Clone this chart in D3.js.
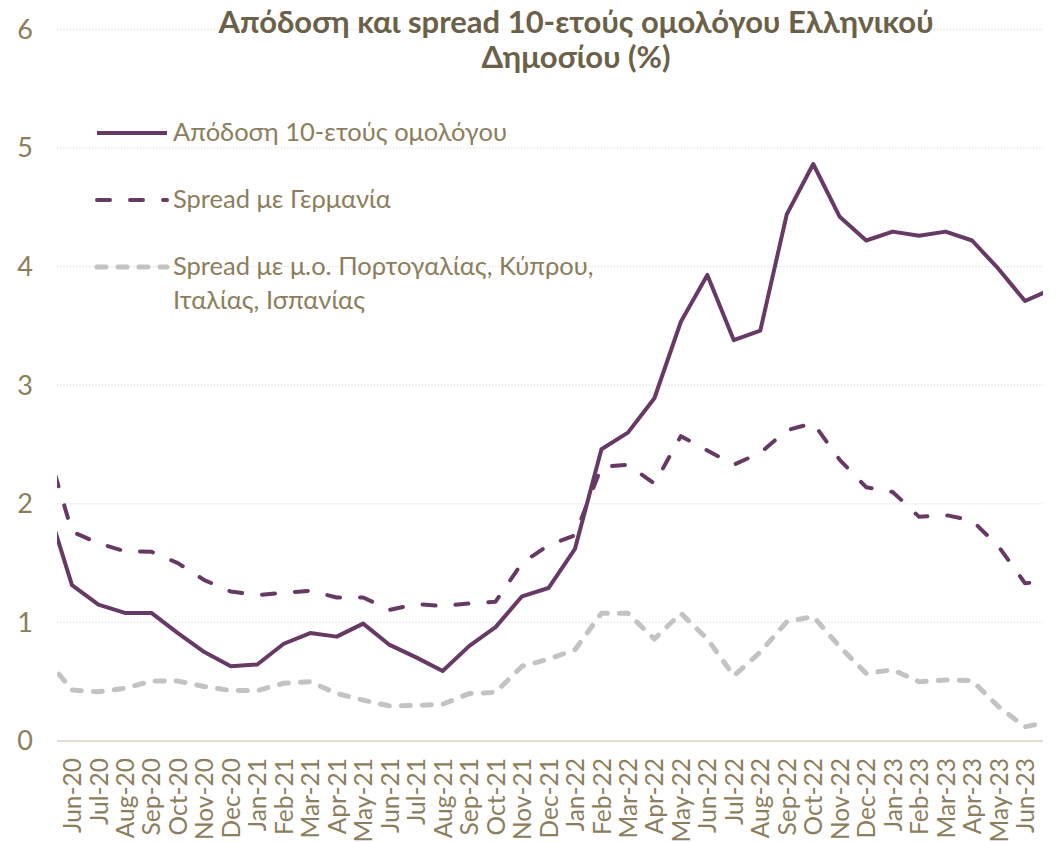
<!DOCTYPE html>
<html>
<head>
<meta charset="utf-8">
<script src="https://cdn.jsdelivr.net/npm/d3@7"></script>
<style>
  body { margin: 0; background: #fff; }
  .canvas text { font-family: Lato, "Noto Sans", sans-serif; }
</style>
</head>
<body>
<div class="canvas"></div>
<script>
// Months (first and last are only partly visible, cut by the plot area)
const months = ['May-20','Jun-20','Jul-20','Aug-20','Sep-20','Oct-20','Nov-20','Dec-20',
    'Jan-21','Feb-21','Mar-21','Apr-21','May-21','Jun-21','Jul-21','Aug-21','Sep-21','Oct-21','Nov-21','Dec-21',
    'Jan-22','Feb-22','Mar-22','Apr-22','May-22','Jun-22','Jul-22','Aug-22','Sep-22','Oct-22','Nov-22','Dec-22',
    'Jan-23','Feb-23','Mar-23','Apr-23','May-23','Jun-23','Jul-23']

const yield10y = [2.03, 1.315, 1.15, 1.08, 1.08, 0.91, 0.75, 0.63,
    0.645, 0.82, 0.91, 0.88, 0.99, 0.81, 0.705, 0.59, 0.80, 0.96, 1.22, 1.29,
    1.62, 2.46, 2.60, 2.89, 3.535, 3.93, 3.38, 3.46, 4.44, 4.865, 4.42, 4.22,
    4.295, 4.26, 4.295, 4.22, 3.98, 3.71, 3.81]

const spreadGermany = [2.52, 1.765, 1.667, 1.60, 1.596, 1.50, 1.357, 1.26,
    1.23, 1.25, 1.267, 1.21, 1.21, 1.105, 1.155, 1.138, 1.16, 1.175, 1.50, 1.65,
    1.735, 2.31, 2.33, 2.17, 2.57, 2.45, 2.33, 2.43, 2.62, 2.68, 2.37, 2.14,
    2.10, 1.89, 1.905, 1.86, 1.64, 1.33, 1.35]

const spreadPeriphery = [0.70, 0.43, 0.415, 0.445, 0.505, 0.505, 0.46, 0.425,
    0.425, 0.487, 0.50, 0.40, 0.345, 0.295, 0.30, 0.31, 0.40, 0.41, 0.63, 0.69,
    0.77, 1.077, 1.077, 0.86, 1.077, 0.86, 0.55, 0.75, 1.005, 1.05, 0.795, 0.57,
    0.60, 0.50, 0.515, 0.51, 0.29, 0.12, 0.165]

const yTicks = [0, 1, 2, 3, 4, 5, 6]
const titleLines = ['Απόδοση και spread 10-ετούς ομολόγου Ελληνικού', 'Δημοσίου (%)']

const series = [
    {name: ['Spread με μ.ο. Πορτογαλίας, Κύπρου,', 'Ιταλίας, Ισπανίας'], values: spreadPeriphery, color: '#c3c3c3', width: 5, dash: '9,12'},
    {name: ['Απόδοση 10-ετούς ομολόγου'], values: yield10y, color: '#673965', width: 4, dash: null},
    {name: ['Spread με Γερμανία'], values: spreadGermany, color: '#673965', width: 4, dash: '13,20'}
]
const legendOrder = [1, 2, 0]

const textColor = '#8c7e5c'
const titleColor = '#6b6148'

// svg
const svg = d3.select('.canvas')
    .append('svg')
        .attr('width', 1058)
        .attr('height', 842)

const plot = {left: 57, right: 1043, top: 0, bottom: 741}

const x = d3.scalePoint()
    .domain(months)
    .range([45.5, 1051.5])

const y = d3.scaleLinear()
    .domain([0, 6])
    .range([741, 29.4])

// gridlines
svg.append('g')
    .selectAll('line')
    .data(yTicks.filter(d => d > 0))
    .enter()
    .append('line')
        .attr('x1', plot.left)
        .attr('x2', plot.right)
        .attr('y1', d => y(d))
        .attr('y2', d => y(d))
        .attr('stroke', '#dcdccc')
        .attr('stroke-width', 1.2)
        .attr('stroke-dasharray', '1.2,2')

// baseline
svg.append('line')
    .attr('x1', plot.left)
    .attr('x2', plot.right)
    .attr('y1', y(0))
    .attr('y2', y(0))
    .attr('stroke', '#e2ded3')
    .attr('stroke-width', 2)

// y labels
svg.append('g')
    .selectAll('text')
    .data(yTicks)
    .enter()
    .append('text')
        .attr('x', 25)
        .attr('y', d => y(d))
        .attr('dy', '0.35em')
        .attr('text-anchor', 'middle')
        .attr('font-size', 27)
        .attr('fill', textColor)
        .text(d => d)

// x axis
const xAxis = d3.axisBottom(x)
    .tickValues(months.slice(1, -1))
    .tickSize(0)
    .tickPadding(0)

const gx = svg.append('g')
    .attr('transform', `translate(0, ${y(0)})`)
    .call(xAxis)
gx.select('.domain').remove()
gx.selectAll('text')
    .attr('font-size', 24.5)
    .attr('font-family', 'Lato, "Noto Sans", sans-serif')
    .attr('fill', textColor)
    .attr('text-anchor', 'end')
    .attr('dy', '0.35em')
    .attr('y', 0)
    .attr('transform', 'translate(0, 17) rotate(-90)')

// clip for lines
svg.append('clipPath')
    .attr('id', 'clip')
    .append('rect')
        .attr('x', plot.left)
        .attr('y', 0)
        .attr('width', plot.right - plot.left)
        .attr('height', 842)

const line = d3.line()
    .x((d, i) => x(months[i]))
    .y(d => y(d))

svg.append('g')
    .attr('clip-path', 'url(#clip)')
    .selectAll('path')
    .data(series)
    .enter()
    .append('path')
        .attr('d', d => line(d.values))
        .attr('fill', 'none')
        .attr('stroke', d => d.color)
        .attr('stroke-width', d => d.width)
        .attr('stroke-dasharray', d => d.dash)
        .attr('stroke-linecap', d => d.dash ? 'round' : 'butt')
        .attr('stroke-linejoin', 'round')

// title
svg.append('g')
    .selectAll('text')
    .data(titleLines)
    .enter()
    .append('text')
        .attr('x', 576)
        .attr('y', (d, i) => 33 + i * 35)
        .attr('text-anchor', 'middle')
        .attr('font-size', 31)
        .attr('font-weight', 'bold')
        .attr('fill', titleColor)
        .text(d => d)

// legend
const legendY = [133, 200, 267]
const legend = svg.append('g')
legendOrder.forEach((s, k) => {
    const d = series[s]
    legend.append('line')
        .attr('x1', 97)
        .attr('x2', 167)
        .attr('y1', legendY[k])
        .attr('y2', legendY[k])
        .attr('stroke', d.color)
        .attr('stroke-width', d.width)
        .attr('stroke-dasharray', d.dash)
        .attr('stroke-linecap', d.dash ? 'round' : 'butt')
    d.name.forEach((t, j) => {
        legend.append('text')
            .attr('x', 173)
            .attr('y', legendY[k] + 8 + j * 34)
            .attr('font-size', 25.5)
            .attr('fill', textColor)
            .text(t)
    })
})
</script>
</body>
</html>
